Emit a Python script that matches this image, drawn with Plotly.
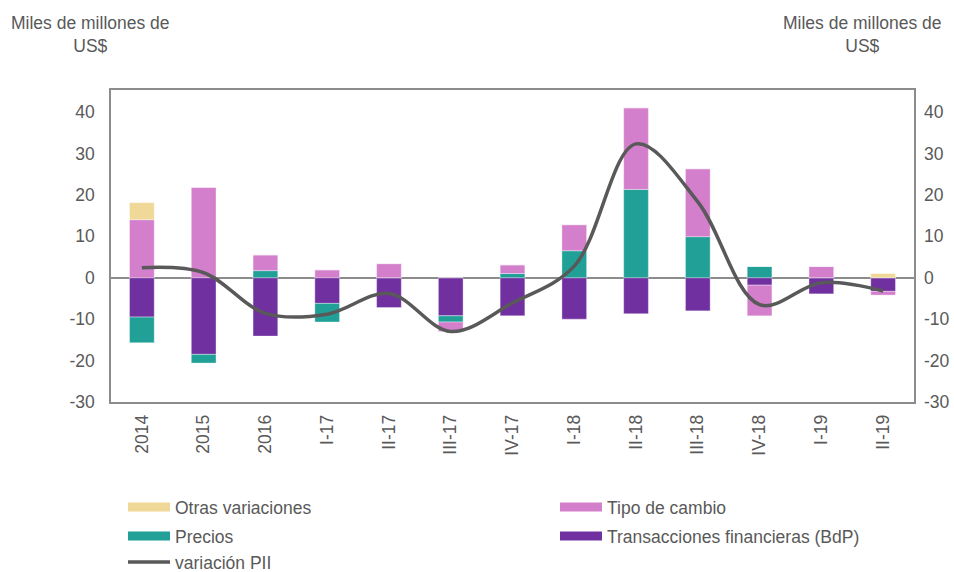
import plotly.graph_objects as go

categories = ["2014", "2015", "2016", "I-17", "II-17", "III-17", "IV-17",
              "I-18", "II-18", "III-18", "IV-18", "I-19", "II-19"]
transacciones = [-9.5, -18.5, -14.1, -6.2, -7.2, -9.2, -9.2, -10.0, -8.7, -8.0, -1.8, -3.9, -3.3]
precios = [-6.2, -2.1, 1.7, -4.5, 0.0, -1.5, 1.0, 6.5, 21.3, 9.9, 2.7, 0.0, 0.0]
tipo_cambio = [14.0, 21.8, 3.8, 1.9, 3.4, -2.3, 2.1, 6.3, 19.7, 16.4, -7.4, 2.7, -0.9]
otras = [4.1, 0.0, 0.0, 0.0, 0.0, 0.0, 0.0, 0.0, 0.0, 0.0, 0.0, 0.0, 1.0]
variacion_pii = [2.4, 1.2, -8.6, -8.8, -3.8, -13.0, -6.1, 2.8, 32.3, 18.3, -6.5, -1.2, -3.2]
y_ticks = [-30, -20, -10, 0, 10, 20, 30, 40]
y_tick_labels = ["-30", "-20", "-10", "0", "10", "20", "30", "40"]

C_TRANS = "#7030A0"
C_PREC = "#21A098"
C_TIPO = "#D47FCC"
C_OTRAS = "#F0D898"
C_LINE = "#595959"
C_TEXT = "#595959"
C_AXIS = "#8C8C8C"
FONT = "Liberation Sans, Arial, sans-serif"
FS = 17.5

fig = go.Figure()
for name, vals, col in [("Transacciones financieras (BdP)", transacciones, C_TRANS),
                        ("Precios", precios, C_PREC),
                        ("Tipo de cambio", tipo_cambio, C_TIPO),
                        ("Otras variaciones", otras, C_OTRAS)]:
    fig.add_trace(go.Bar(x=categories, y=vals, name=name, marker_color=col,
                         marker_line=dict(color="rgba(255,255,255,0.6)", width=0.6),
                         showlegend=False, hoverinfo="y+name"))

fig.add_trace(go.Scatter(x=categories, y=variacion_pii, name="variación PII",
                         mode="lines", line=dict(color=C_LINE, width=3.5, shape="spline", smoothing=1.0),
                         showlegend=False))

# dummy trace to show right axis
fig.add_trace(go.Scatter(x=[categories[0]], y=[None], yaxis="y2", showlegend=False,
                         hoverinfo="skip", mode="lines"))

# plot area: x 111..914, y 90..402
H = 312.0
def py(pixel_y):
    return (402 - pixel_y) / H

def px(pixel_x):
    return (pixel_x - 111) / 803.0

legend_items = [
    ("Otras variaciones", C_OTRAS, 9, "legend", 123, 507),
    ("Tipo de cambio", C_TIPO, 9, "legend2", 555, 507),
    ("Precios", C_PREC, 9, "legend3", 123, 536),
    ("Transacciones financieras (BdP)", C_TRANS, 9, "legend4", 555, 536),
    ("variación PII", C_LINE, 3.5, "legend5", 123, 562),
]
legend_layout = {}
for name, col, w, lg, lx, ly in legend_items:
    fig.add_trace(go.Scatter(x=[None], y=[None], mode="lines", name=name,
                             line=dict(color=col, width=w), legend=lg,
                             showlegend=True, hoverinfo="skip"))
    legend_layout[lg] = dict(orientation="h", x=px(lx), y=py(ly),
                             xanchor="left", yanchor="middle",
                             font=dict(family=FONT, size=FS, color=C_TEXT),
                             bgcolor="rgba(0,0,0,0)", itemwidth=42)
fig.update_layout(**legend_layout)

fig.update_layout(
    width=954, height=572,
    margin=dict(l=111, r=40, t=90, b=170, autoexpand=False),
    paper_bgcolor="white", plot_bgcolor="white",
    barmode="relative", bargap=0.6,
    font=dict(family=FONT, size=FS, color=C_TEXT),
    xaxis=dict(type="category", tickangle=-90, showline=True, mirror=True,
               linecolor=C_AXIS, linewidth=1.5, ticks="", showgrid=False,
               tickfont=dict(size=FS, color=C_TEXT), ticklabelstandoff=4),
    yaxis=dict(range=[-30, 45.3], tickvals=y_ticks, ticktext=y_tick_labels,
               showline=True, mirror=True,
               linecolor=C_AXIS, linewidth=1.5, showgrid=False, zeroline=True,
               zerolinecolor=C_AXIS, zerolinewidth=1.5, ticks="",
               tickfont=dict(size=FS, color=C_TEXT), ticklabelstandoff=11),
    yaxis2=dict(range=[-30, 45.3], tickvals=y_ticks, ticktext=y_tick_labels,
                overlaying="y", side="right",
                showline=False, showgrid=False, zeroline=False, ticks="",
                tickfont=dict(size=FS, color=C_TEXT), ticklabelstandoff=9),
)

for cx in (90, 862):
    fig.add_annotation(text="Miles de millones de<br>US$", xref="paper", yref="paper",
                       x=px(cx), y=py(34.5),
                       xanchor="center", yanchor="middle", showarrow=False, align="center",
                       font=dict(family=FONT, size=FS, color=C_TEXT))

fig.write_html("out.html", config={"displayModeBar": False},
               post_script="document.body.style.margin='0';document.body.style.overflow='hidden';")
